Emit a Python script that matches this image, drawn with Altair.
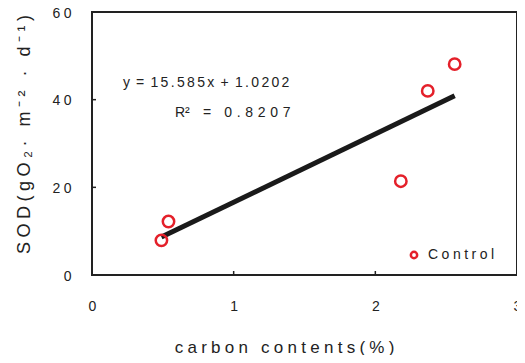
import altair as alt
import pandas as pd

# ---- data ----
carbon = [0.49, 0.54, 2.18, 2.37, 2.56]
sod = [7.9, 12.2, 21.4, 42.0, 48.1]
series = ["Control"] * 5
slope, intercept = 15.585, 1.0202
trend_x = [0.49, 2.56]
trend_y = [slope * v + intercept for v in trend_x]
x_ticks = [0, 1, 2, 3]
y_ticks = [0, 20, 40, 60]
inner_x_ticks = [1, 2]
inner_y_ticks = [20, 40]
eq_text = "y = 15.585x + 1.0202"
r2_text = "R² = 0.8207"
eq_pos = [0.218, 43.8]
r2_pos = [0.585, 37.0]
x_title = "carbon contents(%)"
y_title = "SOD(gO₂· m⁻² · d⁻¹)"

FONT = "Liberation Sans"
RED = "#e4202a"
INK = "#222222"
S6 = "\u2006"   # 1/6 em
S4 = "\u2005"   # 1/4 em
S3 = "\u2004"   # 1/3 em


def spaced(s, sep):
    return sep.join(s)


pts = pd.DataFrame({"carbon": carbon, "sod": sod, "series": series})
trend = pd.DataFrame({"carbon": trend_x, "sod": trend_y})
labels = pd.DataFrame({
    "carbon": [eq_pos[0], r2_pos[0]],
    "sod": [eq_pos[1], r2_pos[1]],
    "t": [spaced(eq_text, S6).replace(" " + S6, " "),
          "R²" + S3 + spaced(r2_text[2:], S3)],
})

tick_expr = "join(split(toString(datum.value), ''), '\u2005')"
legend_expr = "join(split(datum.label, ''), '\u2005')"

xscale = alt.Scale(domain=[0, 3], nice=False, zero=True)
yscale = alt.Scale(domain=[0, 60], nice=False, zero=True)

xaxis = alt.Axis(values=x_ticks, labelExpr=tick_expr, labelFontSize=14,
                 labelPadding=24, labelFlush=False, labelOverlap=False,
                 title=spaced(x_title, S4),
                 titleFontSize=17, titleFontWeight="normal",
                 titleX=192, titleY=72, titleBaseline="middle",
                 titleAlign="center")
yaxis = alt.Axis(values=y_ticks, labelExpr=tick_expr, labelFontSize=14,
                 labelPadding=21, labelFlush=False, labelOverlap=False,
                 labelOffset=1,
                 title=spaced(y_title, S4),
                 titleFontSize=18, titleFontWeight="normal",
                 titleX=-68, titleY=122, titleAngle=-90,
                 titleBaseline="middle", titleAlign="center")

base_x = alt.X("carbon:Q", scale=xscale, axis=xaxis)
base_y = alt.Y("sod:Q", scale=yscale, axis=yaxis)

line = alt.Chart(trend).mark_line(color="#1a1a1a", strokeWidth=5).encode(
    x=base_x, y=base_y)

points = alt.Chart(pts).mark_point(shape="circle", filled=False, size=130,
                                   strokeWidth=2.5, opacity=1).encode(
    x="carbon:Q", y="sod:Q",
    color=alt.Color("series:N",
                    scale=alt.Scale(domain=["Control"], range=[RED]),
                    legend=alt.Legend(title=None, orient="none",
                                      legendX=315, legendY=236, padding=0,
                                      symbolSize=40, symbolStrokeWidth=2.5,
                                      symbolType="circle",
                                      symbolFillColor="white",
                                      symbolOpacity=1,
                                      labelFontSize=14, labelFont=FONT,
                                      labelColor=INK, labelOffset=7,
                                      labelExpr=legend_expr)))

texts = alt.Chart(labels).mark_text(align="left", baseline="middle",
                                    fontSize=14, font=FONT,
                                    color=INK).encode(
    x="carbon:Q", y="sod:Q", text="t:N")

yt = alt.Chart(pd.DataFrame({"v": inner_y_ticks})).mark_rule(
    color=INK, strokeWidth=1.5).encode(
    y="v:Q", x=alt.value(0), x2=alt.value(4))
xt = alt.Chart(pd.DataFrame({"v": inner_x_ticks})).mark_rule(
    color=INK, strokeWidth=1.5).encode(
    x="v:Q", y=alt.value(263), y2=alt.value(259))

chart = alt.layer(line, points, texts, yt, xt).properties(
    width=425, height=263,
    autosize=alt.AutoSizeParams(type="none"),
    padding={"left": 84, "top": 4, "right": 0, "bottom": 80},
    background="white",
).configure_view(stroke=INK, strokeWidth=2).configure_axis(
    domain=False, ticks=False, grid=False, labelFont=FONT, titleFont=FONT,
    labelColor=INK, titleColor=INK)

chart.save("out.html", embed_options={"renderer": "svg", "actions": False})
